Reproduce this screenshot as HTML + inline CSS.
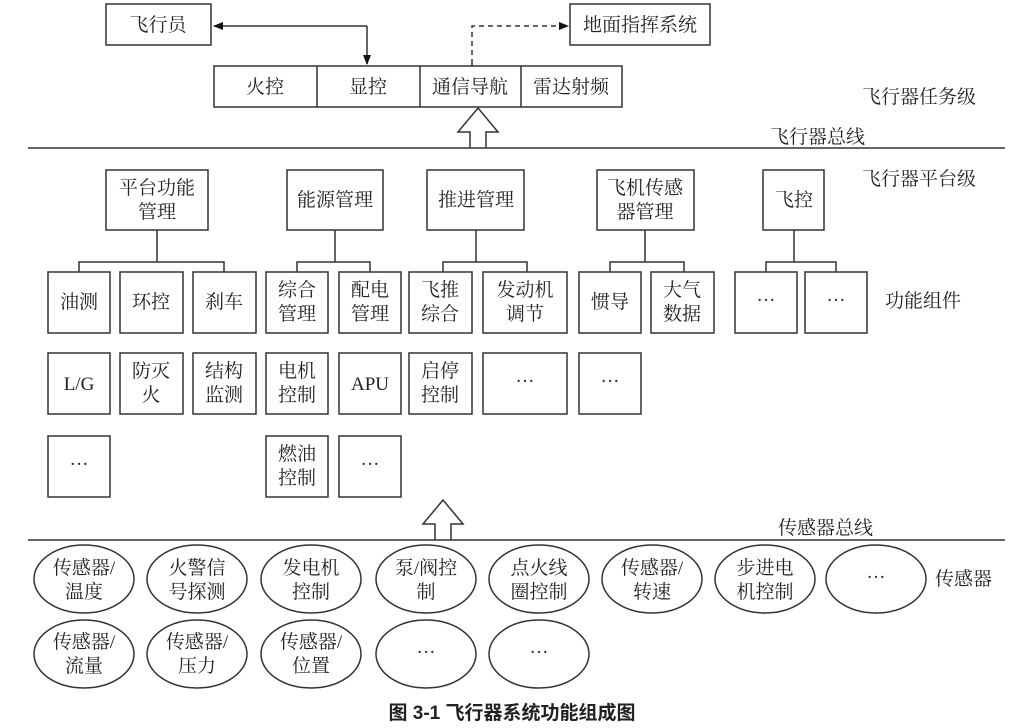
<!DOCTYPE html>
<html><head><meta charset="utf-8"><style>
html,body{margin:0;padding:0;background:#fff;width:1024px;height:728px;overflow:hidden}
svg text{font-family:"Liberation Serif","Noto Serif CJK SC",serif;font-size:19px;fill:#222}
</style></head><body>
<svg width="1024" height="728" viewBox="0 0 1024 728" xmlns="http://www.w3.org/2000/svg">
<defs>
<marker id="ah" markerWidth="10" markerHeight="10" refX="9" refY="5" orient="auto" markerUnits="userSpaceOnUse"><path d="M0,1 L10,5 L0,9 z" fill="#111"/></marker>
</defs>
<g fill="none" stroke="#333" stroke-width="1.5">
<rect x="106" y="4" width="105" height="41"/>
<rect x="570" y="4" width="140" height="41"/>
<rect x="214" y="66" width="408" height="41"/>
<line x1="317" y1="66" x2="317" y2="107"/><line x1="420" y1="66" x2="420" y2="107"/><line x1="521" y1="66" x2="521" y2="107"/>
<polyline points="367,26 214,26" marker-end="url(#ah)"/>
<polyline points="367,26 367,64" marker-end="url(#ah)"/>
<polyline points="472,64 472,26 568,26" stroke-dasharray="5,4" marker-end="url(#ah)"/>
<line x1="472" y1="66" x2="472" y2="64"/>
<path d="M470,148 L470,132 L458,132 L478,108 L498,132 L486,132 L486,148" fill="#fff"/>
<line x1="28" y1="148" x2="1005" y2="148"/>
<rect x="106" y="170" width="102" height="60"/>
<rect x="287" y="170" width="96" height="60"/>
<rect x="427" y="170" width="97" height="60"/>
<rect x="597" y="170" width="97" height="60"/>
<rect x="763" y="170" width="61" height="60"/>
<path d="M157,230V262M79,272V262H224V272"/>
<path d="M335,230V262M297,272V262H370V272"/>
<path d="M476,230V262M443,272V262H527V272"/>
<path d="M645,230V262M610,272V262H684V272"/>
<path d="M794,230V262M766,272V262H836V272"/>
<g>
<rect x="48" y="272" width="62" height="61"/><rect x="120" y="272" width="63" height="61"/><rect x="193" y="272" width="63" height="61"/>
<rect x="266" y="272" width="62" height="61"/><rect x="339" y="272" width="62" height="61"/><rect x="409" y="272" width="63" height="61"/>
<rect x="483" y="272" width="84" height="61"/><rect x="579" y="272" width="62" height="61"/><rect x="651" y="272" width="63" height="61"/>
<rect x="735" y="272" width="62" height="61"/><rect x="805" y="272" width="62" height="61"/>
<rect x="48" y="353" width="62" height="61"/><rect x="120" y="353" width="63" height="61"/><rect x="193" y="353" width="63" height="61"/>
<rect x="266" y="353" width="62" height="61"/><rect x="339" y="353" width="62" height="61"/><rect x="409" y="353" width="63" height="61"/>
<rect x="483" y="353" width="84" height="61"/><rect x="579" y="353" width="62" height="61"/>
<rect x="48" y="436" width="62" height="61"/><rect x="266" y="436" width="62" height="61"/><rect x="339" y="436" width="62" height="61"/>
</g>
<path d="M435,540 L435,524 L423,524 L443,500 L463,524 L451,524 L451,540" fill="#fff"/>
<line x1="28" y1="540" x2="1005" y2="540"/>
<ellipse cx="84" cy="579" rx="50" ry="34"/><ellipse cx="197" cy="579" rx="50" ry="34"/><ellipse cx="311" cy="579" rx="50" ry="34"/>
<ellipse cx="426" cy="579" rx="50" ry="34"/><ellipse cx="539" cy="579" rx="50" ry="34"/><ellipse cx="652" cy="579" rx="50" ry="34"/>
<ellipse cx="765" cy="579" rx="50" ry="34"/><ellipse cx="876" cy="579" rx="50" ry="34"/>
<ellipse cx="84" cy="654" rx="50" ry="34"/><ellipse cx="197" cy="654" rx="50" ry="34"/><ellipse cx="311" cy="654" rx="50" ry="34"/>
<ellipse cx="426" cy="654" rx="50" ry="34"/><ellipse cx="539" cy="654" rx="50" ry="34"/>
</g>
<g text-anchor="middle">
<text x="158" y="31">飞行员</text><text x="640" y="31">地面指挥系统</text>
<text x="265" y="93">火控</text><text x="368" y="93">显控</text><text x="470" y="93">通信导航</text><text x="571" y="93">雷达射频</text>
<text x="157" y="194">平台功能</text><text x="157" y="218">管理</text>
<text x="335" y="206">能源管理</text><text x="476" y="206">推进管理</text>
<text x="645" y="194">飞机传感</text><text x="645" y="218">器管理</text>
<text x="794" y="206">飞控</text>
<text x="79" y="308">油测</text><text x="151" y="308">环控</text><text x="224" y="308">刹车</text>
<text x="297" y="296">综合</text><text x="297" y="320">管理</text>
<text x="370" y="296">配电</text><text x="370" y="320">管理</text>
<text x="440" y="296">飞推</text><text x="440" y="320">综合</text>
<text x="525" y="296">发动机</text><text x="525" y="320">调节</text>
<text x="610" y="308">惯导</text>
<text x="682" y="296">大气</text><text x="682" y="320">数据</text>
<text x="766" y="306">···</text><text x="836" y="306">···</text>
<text x="79" y="390">L/G</text>
<text x="151" y="377">防灭</text><text x="151" y="401">火</text>
<text x="224" y="377">结构</text><text x="224" y="401">监测</text>
<text x="297" y="377">电机</text><text x="297" y="401">控制</text>
<text x="370" y="390">APU</text>
<text x="440" y="377">启停</text><text x="440" y="401">控制</text>
<text x="525" y="387">···</text><text x="610" y="387">···</text>
<text x="79" y="470">···</text>
<text x="297" y="460">燃油</text><text x="297" y="484">控制</text>
<text x="370" y="470">···</text>
<text x="84" y="574">传感器/</text><text x="84" y="598">温度</text>
<text x="197" y="574">火警信</text><text x="197" y="598">号探测</text>
<text x="311" y="574">发电机</text><text x="311" y="598">控制</text>
<text x="426" y="574">泵/阀控</text><text x="426" y="598">制</text>
<text x="539" y="574">点火线</text><text x="539" y="598">圈控制</text>
<text x="652" y="574">传感器/</text><text x="652" y="598">转速</text>
<text x="765" y="574">步进电</text><text x="765" y="598">机控制</text>
<text x="876" y="583">···</text>
<text x="84" y="648">传感器/</text><text x="84" y="672">流量</text>
<text x="197" y="648">传感器/</text><text x="197" y="672">压力</text>
<text x="311" y="648">传感器/</text><text x="311" y="672">位置</text>
<text x="426" y="658">···</text><text x="539" y="658">···</text>
</g>
<text x="862" y="103">飞行器任务级</text>
<text x="770" y="143">飞行器总线</text>
<text x="862" y="185">飞行器平台级</text>
<text x="885" y="307">功能组件</text>
<text x="778" y="534">传感器总线</text>
<text x="935" y="585">传感器</text>
<text x="512" y="719" text-anchor="middle" style="font-family:'Liberation Sans','Noto Sans CJK SC',sans-serif;font-weight:bold;font-size:19px">图 3-1 飞行器系统功能组成图</text>
</svg>
</body></html>
